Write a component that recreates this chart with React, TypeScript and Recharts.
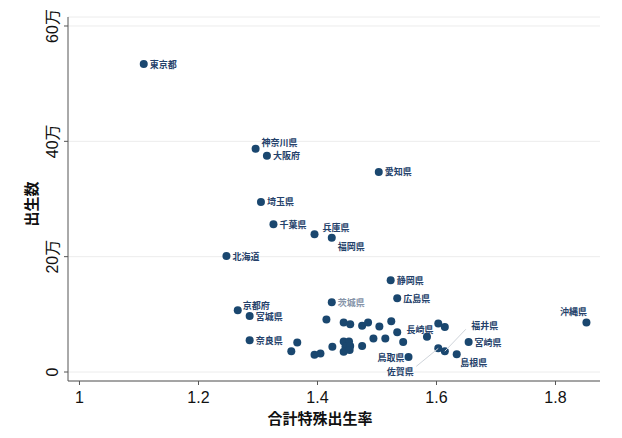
import { ScatterChart, Scatter, XAxis, YAxis, CartesianGrid } from "recharts";

// labelled prefectures: total fertility rate and births (万)
const prefNames = [
  "東京都", "神奈川県", "大阪府", "愛知県", "埼玉県", "千葉県", "兵庫県", "福岡県",
  "北海道", "静岡県", "広島県", "茨城県", "京都府", "宮城県", "沖縄県", "奈良県",
  "長崎県", "宮崎県", "島根県", "鳥取県", "佐賀県", "福井県",
];
const prefTfr = [
  1.108, 1.296, 1.315, 1.503, 1.305, 1.326, 1.395, 1.424,
  1.247, 1.523, 1.534, 1.424, 1.266, 1.286, 1.852, 1.286,
  1.584, 1.654, 1.634, 1.553, 1.603, 1.614,
];
const prefBirths = [
  53.4, 38.7, 37.5, 34.7, 29.5, 25.6, 23.9, 23.3,
  20.1, 15.9, 12.8, 12.1, 10.7, 9.7, 8.6, 5.5,
  6.1, 5.2, 3.1, 2.6, 4.1, 3.6,
];

// the other prefectures (not labelled in the chart)
const otherTfr = [
  1.415, 1.444, 1.455, 1.475, 1.485, 1.504, 1.524, 1.534, 1.603, 1.614,
  1.356, 1.366, 1.395, 1.405, 1.425, 1.444, 1.453, 1.447, 1.455, 1.444,
  1.454, 1.475, 1.494, 1.514, 1.544,
];
const otherBirths = [
  9.1, 8.6, 8.3, 8.0, 8.6, 7.9, 8.8, 6.9, 8.4, 7.8,
  3.6, 5.1, 3.0, 3.2, 4.4, 5.3, 5.3, 4.4, 4.5, 3.5,
  3.8, 4.5, 5.8, 5.8, 5.2,
];

const xTicks = [1, 1.2, 1.4, 1.6, 1.8];
const yTicks = [0, 20, 40, 60];

// label placement relative to the dot (dx, dy, anchor, leader line)
const labelPos: Record<string, { dx: number; dy: number; anchor?: string; lead?: [number, number] }> = {
  "神奈川県": { dx: 6, dy: -6 },
  "京都府": { dx: 5, dy: -5 },
  "兵庫県": { dx: 8, dy: -7 },
  "福岡県": { dx: 6, dy: 9 },
  "沖縄県": { dx: -13, dy: -11, anchor: "middle" },
  "長崎県": { dx: -7, dy: -7, anchor: "middle" },
  "鳥取県": { dx: -4, dy: 0, anchor: "end" },
  "佐賀県": { dx: -38, dy: 23, anchor: "middle", lead: [-22, 18] },
  "福井県": { dx: 40, dy: -26, anchor: "middle", lead: [21, -22] },
  "島根県": { dx: 17, dy: 8, anchor: "middle" },
};

const NAVY = "#1a476f";
const AXIS = "#555555";

const labelled = prefTfr.map((x, i) => ({ x, y: prefBirths[i], name: prefNames[i] }));
const others = otherTfr.map((x, i) => ({ x, y: otherBirths[i], name: "" }));
const allPoints = [...labelled, ...others];

const Dot = (props: any) => {
  const { cx, cy } = props;
  return <circle cx={cx} cy={cy} r={4} fill={NAVY} />;
};

const PrefLabel = (props: any) => {
  const { cx, cy, payload } = props;
  const name = payload.name;
  const p = labelPos[name] || { dx: 6, dy: 0 };
  const anchor = p.anchor || "start";
  return (
    <g>
      {p.lead && (
        <line x1={cx + p.lead[0]} y1={cy + p.lead[1]} x2={cx} y2={cy} stroke="#cfd4da" strokeWidth={1} />
      )}
      <text
        x={cx + p.dx}
        y={cy + p.dy}
        textAnchor={anchor}
        dominantBaseline="central"
        fontSize={9}
        fontWeight="bold"
        fontFamily="'Noto Sans CJK JP', sans-serif"
        fill={name === "茨城県" ? "#8593a8" : "#24416a"}
      >
        {name}
      </text>
    </g>
  );
};

const XTick = (props: any) => {
  const { x, y, payload } = props;
  return (
    <text x={x} y={y + 18} textAnchor="middle" fontSize={16} fontFamily="'Liberation Sans', Arial, sans-serif" fill="#111">
      {String(payload.value)}
    </text>
  );
};

const YTick = (props: any) => {
  const { x, y, payload } = props;
  const v = payload.value;
  return (
    <text
      transform={`translate(${x - 6},${y}) rotate(-90)`}
      textAnchor="middle"
      fontSize={16}
      fontFamily="'Liberation Sans', 'Noto Sans CJK JP', sans-serif"
      fill="#111"
    >
      {v === 0 ? "0" : `${v}万`}
    </text>
  );
};

export default function App() {
  return (
    <div style={{ position: "absolute", left: 0, top: 0, background: "#fff" }}>
      <ScatterChart width={622} height={438} margin={{ top: 17, right: 22, bottom: 0, left: 0 }}>
        <CartesianGrid vertical={false} stroke="#ececec" />
        <XAxis
          type="number"
          dataKey="x"
          domain={[0.9807, 1.8748]}
          ticks={xTicks}
          allowDataOverflow
          height={57}
          tickSize={4}
          tickMargin={0}
          axisLine={{ stroke: AXIS }}
          tickLine={{ stroke: AXIS }}
          tick={<XTick />}
          label={{
            content: () => (
              <text x={320} y={424} textAnchor="middle" fontSize={15} fontWeight="bold" fontFamily="'Noto Sans CJK JP', sans-serif" fill="#111">
                合計特殊出生率
              </text>
            ),
          }}
        />
        <YAxis
          type="number"
          dataKey="y"
          domain={[-1.56, 61.56]}
          ticks={yTicks}
          allowDataOverflow
          width={68}
          tickSize={4}
          tickMargin={0}
          axisLine={{ stroke: AXIS }}
          tickLine={{ stroke: AXIS }}
          tick={<YTick />}
          label={{
            content: () => (
              <text transform="translate(37,204) rotate(-90)" textAnchor="middle" fontSize={15} fontWeight="bold" fontFamily="'Noto Sans CJK JP', sans-serif" fill="#111">
                出生数
              </text>
            ),
          }}
        />
        <Scatter data={allPoints} shape={<Dot />} isAnimationActive={false} />
        <Scatter data={labelled} shape={<PrefLabel />} isAnimationActive={false} />
      </ScatterChart>
    </div>
  );
}
